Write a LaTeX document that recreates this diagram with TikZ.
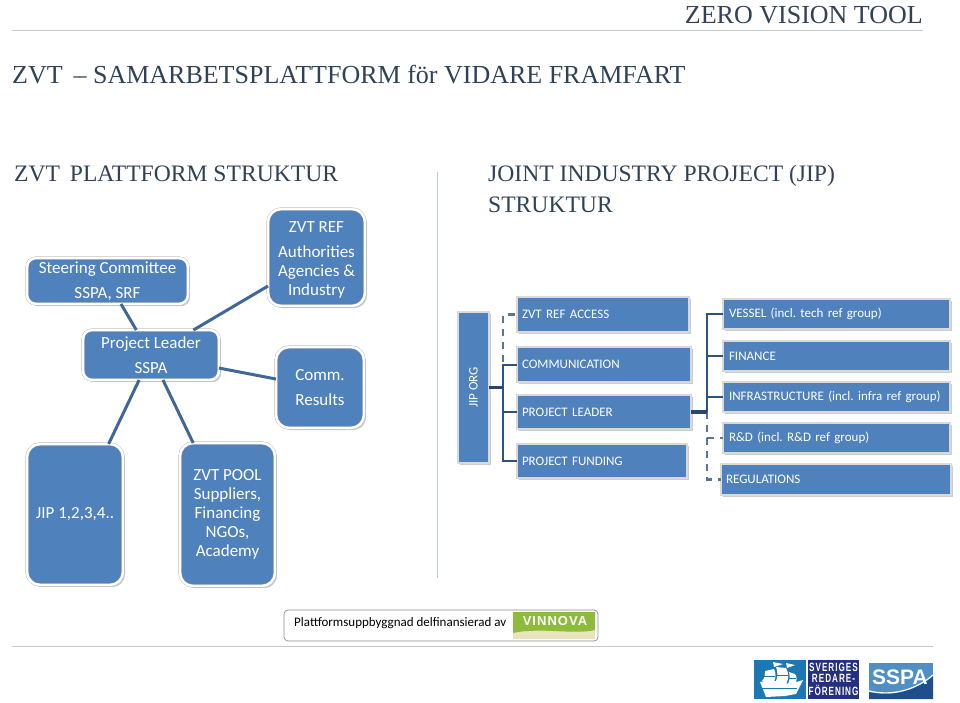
\documentclass[tikz,border=0pt]{standalone}
\usepackage{fontspec}
\usepackage{graphicx}
\setmainfont{Carlito}
\newfontfamily\serifhead{Liberation Serif}
\newfontfamily\sanslogo{Liberation Sans}
\newfontfamily\spacedlogo[LetterSpace=8]{Liberation Sans}
\newfontfamily\srflogo[LetterSpace=12]{Liberation Sans}
\usetikzlibrary{shadows,calc}
\definecolor{boxblue}{HTML}{4F81BD}
\definecolor{linkblue}{HTML}{3F6797}
\definecolor{orgline}{HTML}{2F5381}
\definecolor{rulegray}{HTML}{BFCBD3}
\definecolor{headink}{HTML}{2F4257}
\definecolor{vgreen}{HTML}{8DBB3C}
\definecolor{vcream}{HTML}{E9E3BE}
\definecolor{srfblue}{HTML}{1C78B4}
\definecolor{srfnavy}{HTML}{24307F}
\definecolor{sspalight}{HTML}{4F8FC4}
\definecolor{sspadark}{HTML}{1F4E8C}
\tikzset{
 softshadow/.style={drop shadow={opacity=.4,shadow xshift=2.2pt,shadow yshift=-2.2pt}},
 roundbox/.style={draw=black!28,double=white,double distance=2.4pt,line width=.4pt,fill=boxblue,rounded corners=9pt,text=white,align=center,softshadow,inner sep=0pt,outer sep=0pt,font=\fontsize{17}{19}\selectfont},
 tallbox/.style={roundbox,rounded corners=13pt},
 orgbox/.style={draw=black!15,line width=1.5pt,fill=boxblue,text=white,align=left,softshadow,inner sep=0pt,outer sep=0pt,font=\fontsize{13}{15}\selectfont},
 link/.style={draw=linkblue,line width=3pt},
 orgsolid/.style={draw=orgline,line width=2pt},
 orgthick/.style={draw=orgline!85!black,line width=3.2pt},
 orgdash/.style={draw=orgline!80,line width=2.4pt,dash pattern=on 7pt off 6pt},
 heading/.style={font=\serifhead\fontsize{26}{30}\selectfont,text=headink,inner sep=0pt,anchor=base west,align=left},
 subheading/.style={heading,font=\serifhead\fontsize{23.6}{30}\selectfont},
 rulefine/.style={draw=rulegray,line width=1pt},
}
\newcommand{\rbox}[7][roundbox]{% style, name, x1,y1,x2,y2, text
 \node[#1,minimum width={#5-#3},minimum height={#6-#4}] (#2) at ({(#3+#5)/2},{(#4+#6)/2}) {#7};}
\newcommand{\obox}[6]{% name,x1,y1,x2,y2,text
 \node[orgbox,minimum width={#4-#2},minimum height={#5-#3},text width={#4-#2-10}] (#1) at ({(#2+#4)/2},{(#3+#5)/2}) {\frenchspacing #6};}
\begin{document}
\begin{tikzpicture}[x=1pt,y=-1pt]
\useasboundingbox (0,0) rectangle (960,703);
% header
\node[heading,anchor=base east] (brand) at (923,24) {ZERO VISION TOOL};
\coordinate (r1a) at (12,31); \coordinate (r1b) at (923,31);
\draw[rulefine] (r1a) -- (r1b);
\node[heading] (maintitle) at (12,84) {ZVT\, – SAMARBETSPLATTFORM för VIDARE FRAMFART};
\node[subheading] (lefttitle) at (14,182) {ZVT\, PLATTFORM STRUKTUR};
\node[subheading] (righttitle) at (488,182) {JOINT INDUSTRY PROJECT (JIP)};
\node[subheading] (righttitleb) at (488,213) {STRUKTUR};
\coordinate (d1) at (437,172); \coordinate (d2) at (437,578);
\draw[rulefine] (d1) -- (d2);
% left structure
\rbox{steer}{27}{258}{188}{304}{Steering Committee\\[6pt]SSPA, SRF}
\rbox[tallbox]{ref}{268}{209}{365}{306}{\rule{0pt}{15.5pt}ZVT REF\\[6pt]Authorities\\Agencies \&\\Industry}
\rbox{pl}{83}{330}{219}{380}{Project Leader\\[6pt]SSPA}
\rbox[tallbox]{comm}{276}{347}{364}{428}{Comm.\\[6pt]Results}
\rbox[tallbox]{jip}{27}{444}{123}{585}{JIP 1,2,3,4..}
\rbox[tallbox]{pool}{180}{443}{275}{586}{ZVT POOL\\Suppliers,\\Financing\\NGOs,\\Academy}
\draw[link] (steer) -- (pl);
\draw[link] (ref) -- (pl);
\draw[link] (comm) -- (pl);
\draw[link] (jip) -- (pl);
\draw[link] (pool) -- (pl);
% right structure
\node[orgbox,align=center,minimum width=31,minimum height=151] (org) at (473.5,387.5) {\rotatebox{90}{JIP ORG}};
\obox{zref}{517}{297}{689}{332}{ZVT REF ACCESS}
\obox{ocomm}{517}{347}{691}{382}{COMMUNICATION}
\obox{olead}{517}{395}{691}{429}{PROJECT LEADER}
\obox{ofund}{517}{444}{687}{478}{PROJECT FUNDING}
\obox{vessel}{723}{299}{950}{329}{\hspace*{1pt}VESSEL (incl. tech ref group)}
\obox{fin}{723}{341}{950}{371}{\hspace*{1pt}FINANCE}
\obox{infra}{723}{382}{950}{412}{\hspace*{1pt}INFRASTRUCTURE (incl. infra ref group)}
\obox{rd}{723}{423}{950}{453}{\hspace*{1pt}R\&D (incl. R\&D ref group)}
\obox{reg}{721}{464}{951}{495}{REGULATIONS}
\coordinate (t1) at (503,387.5);
\coordinate (t2) at (707,412);
\draw[orgdash] (t1) |- (zref.west);
\draw[orgsolid] (t1) |- (ocomm.west);
\draw[orgsolid] (t1) |- (olead.west);
\draw[orgsolid] (t1) |- (ofund.west);
\draw[orgthick] (org.east) -- (t1);
\draw[orgdash] (t2) |- (rd.west);
\draw[orgdash] (t2) |- (reg.west);
\draw[orgsolid] (t2) |- (vessel.west);
\draw[orgsolid] (t2) |- (fin.west);
\draw[orgsolid] (t2) |- (infra.west);
\draw[orgthick] (olead.east) -- (t2);
% funding box
\node[draw=black!45,rounded corners=4pt,line width=.7pt,minimum width=314,minimum height=31,inner sep=0pt] (fund) at (441,625.5) {};
\node[anchor=west,inner sep=0pt,font=\fontsize{13}{15}\selectfont] (fundtext) at (294,623.5) {Plattformsuppbyggnad delfinansierad av};
\fill[vcream] (513,612) rectangle (595,639);
\fill[vgreen] (513,612) -- (595,612) -- (595,630) .. controls (575,635) and (540,627) .. (513,633) -- cycle;
\node[text=white,inner sep=0pt,font=\spacedlogo\bfseries\fontsize{13}{14}\selectfont] (vin) at (555,621) {VINNOVA};
\coordinate (r2a) at (12,646); \coordinate (r2b) at (933,646);
\draw[rulefine] (r2a) -- (r2b);
% SRF logo
\fill[srfblue] (754,660) rectangle (806,699);
\begin{scope}[white]
 \fill (760,682) -- (770,680) -- (790,684) -- (803,680) -- (796,694) -- (785,696) -- (766,697) -- cycle;
 \fill (765,671) -- (774,669) .. controls (776,673) and (776,677) .. (774,682) -- (762,681) .. controls (765,678) and (765,674) .. (765,671) -- cycle;
 \fill (776,667) -- (786,668) .. controls (789,673) and (789,679) .. (786,684) -- (775,683) .. controls (778,678) and (778,672) .. (776,667) -- cycle;
 \fill (789,672) -- (795,674) .. controls (797,677) and (797,680) .. (796,683) -- (788,684) .. controls (790,680) and (790,676) .. (789,672) -- cycle;
 \fill (773,662) -- (783,664) -- (774,667) -- cycle;
 \fill (786,663) -- (795,665) -- (787,668) -- cycle;
\end{scope}
\draw[srfblue,line width=.6pt] (764,676) -- (775,676) (776,675) -- (788,675) (789,678) -- (796,678) (762,688) -- (797,688);
\fill[srfnavy] (808,660) rectangle (859,699);
\node[text=white,inner sep=0pt,align=center,font=\srflogo\bfseries\fontsize{12}{13}\selectfont] (srf) at (833.5,679.5) {\scalebox{.68}[1]{\shortstack{SVERIGES\\[0pt]REDARE-\\[0pt]FÖRENING}}};
% SSPA logo
\fill[sspalight] (869,663) rectangle (933,699);
\fill[sspadark] (869,699) -- (869,692) .. controls (895,698) and (918,689) .. (933,676) -- (933,699) -- cycle;
\draw[white,line width=1.2pt] (869,691) .. controls (895,697) and (918,688) .. (933,675);
\node[text=white,inner sep=0pt,font=\sanslogo\bfseries\fontsize{21}{22}\selectfont] (sspa) at (900,677) {SSPA};
\end{tikzpicture}
\end{document}
